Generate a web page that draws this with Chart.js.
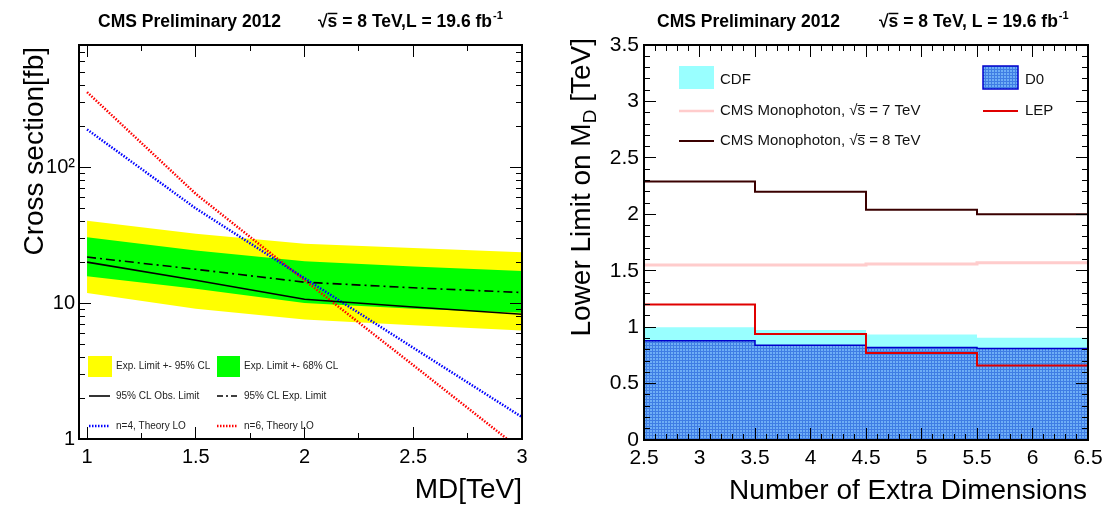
<!DOCTYPE html>
<html>
<head>
<meta charset="utf-8">
<script src="https://cdn.jsdelivr.net/npm/chart.js@4.4.1/dist/chart.umd.min.js"></script>
<style>
  body { margin: 0; background: #fff; }
  #wrap { position: relative; width: 1107px; height: 506px; }
  .panel { position: absolute; top: 0; height: 506px; }
  #left { left: 0; width: 553px; }
  #right { left: 553px; width: 554px; }
</style>
</head>
<body>
<div id="wrap">
  <div class="panel" id="left"><canvas id="xsecChart"></canvas></div>
  <div class="panel" id="right"><canvas id="limitChart"></canvas></div>
</div>
<script>
const FONT = '"Liberation Sans", Arial, Helvetica, sans-serif';

// left panel: cross section limit vs MD
const mdValues = [1, 1.5, 2, 2.5, 3];
const band95Up = [40.5, 32.6, 27.5, 25.5, 23.8];
const band68Up = [30.7, 24.5, 20.4, 18.7, 17.3];
const expLimit = [21.9, 17.8, 14.3, 13.0, 12.0];
const obsLimit = [20.1, 14.8, 10.7, 9.4, 8.3];
const band68Dn = [15.8, 12.8, 10.05, 9.1, 8.5];
const band95Dn = [11.9, 9.1, 7.6, 6.9, 6.3];
const theoryN4 = [191, 50, 15.3, 4.7, 1.45];
const theoryN6 = [360, 64, 14.8, 3.5, 0.82];
const mdTicks = [1, 1.5, 2, 2.5, 3];
const mdMinor = [1.25, 1.75, 2.25, 2.75];
const xsecTicks = [1, 10, 100];

// right panel: lower limits on MD vs number of extra dimensions
const nEdges = [2.5, 3.5, 4.5, 5.5, 6.5];
const cdfLimit = [1.0, 0.975, 0.935, 0.905];
const d0Limit = [0.88, 0.84, 0.82, 0.81];
const lepLimit = [1.2, 0.94, 0.77, 0.66];
const cms7Limit = [1.55, 1.55, 1.56, 1.57];
const cms8Limit = [2.29, 2.2, 2.04, 2.0];
const nMajor = [2.5, 3, 3.5, 4, 4.5, 5, 5.5, 6, 6.5];
const limMajor = [0, 0.5, 1, 1.5, 2, 2.5, 3, 3.5];

const xy = (xs, ys) => xs.map((x, i) => ({ x, y: ys[i] }));
const steps = vals => nEdges.map((x, i) => ({ x, y: vals[Math.min(i, vals.length - 1)] }));

const logMinor = [];
xsecTicks.forEach(d => { for (let k = 2; k <= 9; k++) if (k * d <= 800) logMinor.push(k * d); });
const nMinor = [], limMinor = [];
for (let i = 25; i <= 65; i++) if (i % 5) nMinor.push(i / 10);
for (let i = 0; i <= 35; i++) if (i % 5) limMinor.push(i / 10);

function makeD0Pattern() {
  const c = document.createElement('canvas');
  c.width = 3; c.height = 3;
  const g = c.getContext('2d');
  g.fillStyle = '#6eaef6'; g.fillRect(0, 0, 3, 3);
  g.fillStyle = '#3f7de4'; g.fillRect(0, 0, 3, 1); g.fillRect(0, 0, 1, 3);
  return g.createPattern(c, 'repeat');
}
const d0Pattern = makeD0Pattern();

function seg(ctx, x1, y1, x2, y2) {
  ctx.beginPath(); ctx.moveTo(x1, y1); ctx.lineTo(x2, y2); ctx.stroke();
}

// one axis of the ROOT style frame: inward ticks, long on majors, short on minors
function frameAxis(opts) {
  const { major, minor, label, mirror, startAtBorder } = opts;
  const isMajor = v => major.some(m => Math.abs(m - v) < 1e-9);
  return {
    type: opts.type, position: opts.position, min: opts.min, max: opts.max,
    display: true,
    afterBuildTicks: s => { s.ticks = major.concat(minor).map(v => ({ value: v })); },
    afterFit: s => { if (opts.position === 'top' || opts.position === 'bottom') s.height = opts.size; else s.width = opts.size; },
    grid: {
      display: true, drawOnChartArea: false, drawTicks: true, tickLength: -12, z: 1,
      tickColor: '#000', tickWidth: 1,
      tickBorderDash: c => isMajor(c.tick.value) ? [] : [6, 6],
      tickBorderDashOffset: startAtBorder ? 0 : 6
    },
    border: { display: false },
    ticks: {
      display: !mirror, autoSkip: false, maxRotation: 0, color: '#000',
      font: { family: FONT, size: opts.fontSize || 20 }, padding: opts.padding || 0,
      callback: v => isMajor(v) ? label(v) : ''
    }
  };
}

function drawFrame(chart) {
  const ctx = chart.ctx;
  const a = chart.chartArea;
  ctx.save();
  ctx.setLineDash([]);
  ctx.strokeStyle = '#000';
  ctx.lineWidth = 2;
  ctx.strokeRect(a.left, a.top, a.right - a.left, a.bottom - a.top);
  ctx.restore();
}

function drawHeader(ctx, x1, x2, lumiText) {
  ctx.save();
  ctx.fillStyle = '#000';
  ctx.strokeStyle = '#000';
  ctx.textBaseline = 'alphabetic';
  ctx.font = 'bold 17.5px ' + FONT;
  ctx.fillText('CMS Preliminary 2012', x1, 27);
  ctx.fillText('\u221A', x2, 27);
  let x = x2 + ctx.measureText('\u221A').width;
  const sw = ctx.measureText('s').width;
  ctx.fillText('s', x, 27);
  ctx.lineWidth = 1.5;
  seg(ctx, x, 13.5, x + sw, 13.5);
  x += sw;
  ctx.fillText(lumiText, x, 27);
  x += ctx.measureText(lumiText).width;
  ctx.font = 'bold 11px ' + FONT;
  ctx.fillText('-1', x + 1, 19);
  ctx.restore();
}

function drawRotated(ctx, parts, xBase, yEnd) {
  ctx.save();
  ctx.translate(xBase, yEnd);
  ctx.rotate(-Math.PI / 2);
  ctx.fillStyle = '#000';
  ctx.textBaseline = 'alphabetic';
  let total = 0;
  parts.forEach(p => { ctx.font = p.size + 'px ' + FONT; total += ctx.measureText(p.text).width; });
  let x = -total;
  parts.forEach(p => {
    ctx.font = p.size + 'px ' + FONT;
    ctx.fillText(p.text, x, p.shift || 0);
    x += ctx.measureText(p.text).width;
  });
  ctx.restore();
}

const xsecDecor = {
  id: 'xsecDecor',
  afterDraw(chart) {
    const ctx = chart.ctx;
    drawFrame(chart);
    drawHeader(ctx, 98, 318, ' = 8 TeV,L = 19.6 fb');
    drawRotated(ctx, [{ text: 'Cross section[fb]', size: 28 }], 43, 47);
    ctx.save();
    ctx.fillStyle = '#000';
    ctx.font = '28px ' + FONT;
    ctx.textAlign = 'right';
    ctx.fillText('MD[TeV]', 522, 498);
    // legend
    ctx.textAlign = 'left';
    ctx.textBaseline = 'middle';
    ctx.font = '10px ' + FONT;
    ctx.fillStyle = '#ffff00'; ctx.fillRect(88, 356, 24, 21);
    ctx.fillStyle = '#00ff00'; ctx.fillRect(217, 356, 23, 21);
    ctx.fillStyle = '#222';
    ctx.fillText('Exp. Limit +- 95% CL', 116, 366);
    ctx.fillText('Exp. Limit +- 68% CL', 244, 366);
    ctx.fillText('95% CL Obs. Limit', 116, 396);
    ctx.fillText('95% CL Exp. Limit', 244, 396);
    ctx.fillText('n=4, Theory LO', 116, 426);
    ctx.fillText('n=6, Theory LO', 244, 426);
    ctx.strokeStyle = '#000'; ctx.lineWidth = 1.6;
    seg(ctx, 89, 396, 110, 396);
    ctx.setLineDash([6, 3, 2, 3]);
    seg(ctx, 217, 396, 238, 396);
    ctx.lineWidth = 2.5; ctx.setLineDash([1.5, 1.5]);
    ctx.strokeStyle = '#0000ff'; seg(ctx, 89, 426, 110, 426);
    ctx.strokeStyle = '#ff0000'; seg(ctx, 217, 426, 238, 426);
    ctx.restore();
  }
};

const mdLabel = v => String(v);
const xsecLabel = v => v === 100 ? '10\u00B2' : String(v);

new Chart(document.getElementById('xsecChart'), {
  type: 'line',
  data: {
    datasets: [
      { label: 'obs', data: xy(mdValues, obsLimit), borderColor: '#000', borderWidth: 1.6, fill: false, order: 0 },
      { label: 'exp', data: xy(mdValues, expLimit), borderColor: '#000', borderWidth: 1.6, borderDash: [9, 4, 2, 4], fill: false, order: 0 },
      { label: 'n4', data: xy(mdValues, theoryN4), borderColor: '#0000ff', borderWidth: 2.5, borderDash: [1.5, 1.5], fill: false, order: 0 },
      { label: 'n6', data: xy(mdValues, theoryN6), borderColor: '#ff0000', borderWidth: 2.5, borderDash: [1.5, 1.5], fill: false, order: 0 },
      { label: '68up', data: xy(mdValues, band68Up), borderWidth: 0, borderColor: 'rgba(0,0,0,0)', backgroundColor: '#00ff00', fill: '+1', order: 1 },
      { label: '68dn', data: xy(mdValues, band68Dn), borderWidth: 0, borderColor: 'rgba(0,0,0,0)', fill: false, order: 1 },
      { label: '95up', data: xy(mdValues, band95Up), borderWidth: 0, borderColor: 'rgba(0,0,0,0)', backgroundColor: '#ffff00', fill: '+1', order: 2 },
      { label: '95dn', data: xy(mdValues, band95Dn), borderWidth: 0, borderColor: 'rgba(0,0,0,0)', fill: false, order: 2 }
    ]
  },
  options: {
    responsive: true,
    maintainAspectRatio: false,
    animation: false,
    events: [],
    layout: { padding: { top: 45, right: 31, left: 0, bottom: 0 } },
    elements: { point: { radius: 0 }, line: { tension: 0 } },
    plugins: { legend: { display: false }, tooltip: { enabled: false } },
    scales: {
      x: frameAxis({ type: 'linear', position: 'bottom', min: 0.963, max: 3, major: mdTicks, minor: mdMinor, label: mdLabel, size: 67, padding: 18, startAtBorder: true }),
      y: frameAxis({ type: 'logarithmic', position: 'left', min: 1, max: 800, major: xsecTicks, minor: logMinor, label: xsecLabel, size: 79, padding: 16, startAtBorder: false }),
      x2: frameAxis({ type: 'linear', position: 'top', min: 0.963, max: 3, major: mdTicks, minor: mdMinor, label: mdLabel, size: 0, mirror: true, startAtBorder: false }),
      y2: frameAxis({ type: 'logarithmic', position: 'right', min: 1, max: 800, major: xsecTicks, minor: logMinor, label: xsecLabel, size: 0, mirror: true, startAtBorder: true })
    }
  },
  plugins: [xsecDecor]
});

const limitDecor = {
  id: 'limitDecor',
  afterDraw(chart) {
    const ctx = chart.ctx;
    drawFrame(chart);
    drawHeader(ctx, 104, 326, ' = 8 TeV, L = 19.6 fb');
    drawRotated(ctx, [
      { text: 'Lower Limit on M', size: 28 },
      { text: 'D', size: 19, shift: 6 },
      { text: ' [TeV]', size: 28 }
    ], 37, 38);
    ctx.save();
    ctx.fillStyle = '#000';
    ctx.font = '28px ' + FONT;
    ctx.textAlign = 'right';
    ctx.fillText('Number of Extra Dimensions', 534, 499);
    // legend
    ctx.textAlign = 'left';
    ctx.textBaseline = 'middle';
    ctx.font = '15px ' + FONT;
    ctx.fillStyle = '#99ffff'; ctx.fillRect(126, 66, 35, 23);
    ctx.fillStyle = d0Pattern; ctx.fillRect(430, 66, 35, 23);
    ctx.strokeStyle = '#0000cc'; ctx.lineWidth = 1.5; ctx.strokeRect(430, 66, 35, 23);
    ctx.fillStyle = '#111';
    ctx.strokeStyle = '#111';
    ctx.fillText('CDF', 167, 80);
    ctx.fillText('D0', 472, 80);
    ctx.fillText('LEP', 472, 111);
    const row = (y, sqrtS) => {
      const a = 'CMS Monophoton, ';
      ctx.fillText(a, 167, y);
      let x = 167 + ctx.measureText(a).width;
      ctx.fillText('\u221A', x, y);
      x += ctx.measureText('\u221A').width;
      const sw = ctx.measureText('s').width;
      ctx.fillText('s', x, y);
      ctx.lineWidth = 1; seg(ctx, x, y - 5.5, x + sw, y - 5.5);
      ctx.fillText(' = ' + sqrtS + ' TeV', x + sw, y);
    };
    row(111, 7);
    row(141, 8);
    ctx.lineWidth = 2.5; ctx.strokeStyle = '#ffcccc'; seg(ctx, 126, 111, 161, 111);
    ctx.lineWidth = 2; ctx.strokeStyle = '#3a0000'; seg(ctx, 126, 141, 161, 141);
    ctx.strokeStyle = '#e00000'; seg(ctx, 430, 111, 465, 111);
    ctx.restore();
  }
};

const plainLabel = v => String(v);

new Chart(document.getElementById('limitChart'), {
  type: 'line',
  data: {
    datasets: [
      { label: 'CMS 8 TeV', data: steps(cms8Limit), stepped: true, borderColor: '#3a0000', borderWidth: 2, fill: false, order: 0 },
      { label: 'CMS 7 TeV', data: steps(cms7Limit), stepped: true, borderColor: '#ffcccc', borderWidth: 3, fill: false, order: 0 },
      { label: 'LEP', data: steps(lepLimit), stepped: true, borderColor: '#e00000', borderWidth: 2, fill: false, order: 0 },
      { label: 'D0', data: steps(d0Limit), stepped: true, borderColor: '#0000cc', borderWidth: 1.5, backgroundColor: d0Pattern, fill: 'origin', order: 1 },
      { label: 'CDF', data: steps(cdfLimit), stepped: true, borderWidth: 0, borderColor: 'rgba(0,0,0,0)', backgroundColor: '#99ffff', fill: 'origin', order: 2 }
    ]
  },
  options: {
    responsive: true,
    maintainAspectRatio: false,
    animation: false,
    events: [],
    layout: { padding: { top: 45, right: 19, left: 0, bottom: 0 } },
    elements: { point: { radius: 0 }, line: { tension: 0 } },
    plugins: { legend: { display: false }, tooltip: { enabled: false } },
    scales: {
      x: frameAxis({ type: 'linear', position: 'bottom', min: 2.5, max: 6.5, major: nMajor, minor: nMinor, label: plainLabel, size: 66, padding: 18, fontSize: 21, startAtBorder: true }),
      y: frameAxis({ type: 'linear', position: 'left', min: 0, max: 3.5, major: limMajor, minor: limMinor, label: plainLabel, size: 91, padding: 17, fontSize: 21, startAtBorder: false }),
      x2: frameAxis({ type: 'linear', position: 'top', min: 2.5, max: 6.5, major: nMajor, minor: nMinor, label: plainLabel, size: 0, mirror: true, startAtBorder: false }),
      y2: frameAxis({ type: 'linear', position: 'right', min: 0, max: 3.5, major: limMajor, minor: limMinor, label: plainLabel, size: 0, mirror: true, startAtBorder: true })
    }
  },
  plugins: [limitDecor]
});
</script>
</body>
</html>
